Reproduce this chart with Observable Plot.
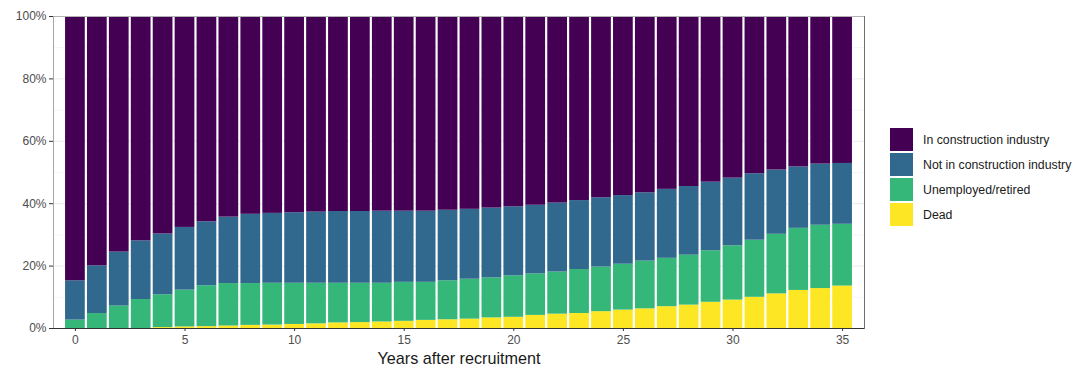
<!DOCTYPE html>
<html>
<head>
<meta charset="utf-8">
<script src="https://cdn.jsdelivr.net/npm/d3@7"></script>
<script src="https://cdn.jsdelivr.net/npm/@observablehq/plot@0.6"></script>
<style>
  html, body { margin: 0; padding: 0; background: #fff; }
  body { font-family: "Liberation Sans", Arial, sans-serif; }
  #wrap { position: relative; width: 1077px; height: 369px; }
  #legend { position: absolute; left: 890px; top: 127px; }
  .row { display: flex; align-items: center; height: 25px; }
  .sw { width: 23px; height: 23px; margin-right: 10px; }
  .lb { font-size: 12.3px; color: #1a1a1a; white-space: nowrap; }
</style>
</head>
<body>
<div id="wrap"><div id="chart"></div><div id="legend"></div></div>
<script>
// Years after recruitment
const years = d3.range(0, 36);

// Status categories, stacked from the bottom up, and their viridis fills
const statuses = ["Dead", "Unemployed/retired", "Not in construction industry", "In construction industry"];
const colors = ["#FDE725", "#35B779", "#31688E", "#440154"];

// Share of the cohort (%) in each status, per year
const dead = [0, 0, 0, 0, 0.3, 0.5, 0.6, 0.8, 1.0, 1.1, 1.3, 1.5, 1.8, 1.9, 2.1, 2.3, 2.6, 2.8,
  3.0, 3.4, 3.6, 4.2, 4.6, 4.8, 5.4, 5.9, 6.3, 7.0, 7.5, 8.4, 9.1, 10.0, 11.1, 12.2, 12.8, 13.6];
const unemployed = [2.7, 4.8, 7.2, 9.3, 10.5, 11.8, 13.1, 13.6, 13.4, 13.4, 13.2, 13.0, 12.7, 12.6,
  12.4, 12.5, 12.2, 12.5, 12.8, 12.8, 13.3, 13.3, 13.5, 14.1, 14.3, 14.7, 15.3, 15.5, 16.0, 16.5,
  17.4, 18.3, 19.1, 19.9, 20.3, 19.8];
const notInConstruction = [12.6, 15.3, 17.3, 18.8, 19.5, 20.1, 20.5, 21.3, 22.2, 22.4, 22.6, 22.8,
  23.0, 23.0, 23.1, 22.8, 22.8, 22.6, 22.4, 22.4, 22.1, 22.0, 22.1, 22.1, 22.2, 22.0, 21.9, 22.1,
  22.0, 22.0, 21.7, 21.3, 20.6, 19.7, 19.6, 19.5];
const inConstruction = [84.7, 79.9, 75.5, 71.9, 69.7, 67.6, 65.8, 64.3, 63.4, 63.1, 62.9, 62.7,
  62.5, 62.5, 62.4, 62.4, 62.4, 62.1, 61.8, 61.4, 61.0, 60.5, 59.8, 59.0, 58.1, 57.4, 56.5, 55.4,
  54.5, 53.1, 51.8, 50.4, 49.2, 48.2, 47.3, 47.1];

// Axis ticks
const xTicks = [0, 5, 10, 15, 20, 25, 30, 35];
const yMajor = [0, 20, 40, 60, 80, 100];
const yMinor = [10, 30, 50, 70, 90];
const xTitle = "Years after recruitment";

const series = [dead, unemployed, notInConstruction, inConstruction];
const data = [];
years.forEach((year, i) => {
  statuses.forEach((status, k) => data.push({year, status, value: series[k][i]}));
});

const chart = Plot.plot({
  width: 870,
  height: 369,
  marginLeft: 53,
  marginRight: 6,
  marginTop: 16,
  marginBottom: 41,
  style: {fontFamily: "'Liberation Sans', Arial, sans-serif", fontSize: "12px", color: "#4d4d4d", background: "#fff"},
  x: {type: "band", domain: years, paddingInner: 0.1, paddingOuter: 0.55, align: 0.5, axis: null},
  y: {domain: [0, 100], axis: null},
  color: {domain: statuses, range: colors},
  marks: [
    Plot.ruleY(yMinor, {stroke: "#f3f3f3", strokeWidth: 0.8}),
    Plot.ruleY(yMajor, {stroke: "#ebebeb", strokeWidth: 1}),
    Plot.barY(data, {x: "year", y: "value", fill: "status"}),
    Plot.frame({stroke: "#b3b3b3"}),
    Plot.frame({anchor: "right", stroke: "#6e6e6e"}),
    Plot.frame({anchor: "left", stroke: "#a6a6a6"}),
    Plot.ruleY([0], {stroke: "#333333", strokeWidth: 1.1}),
    Plot.axisX({ticks: xTicks, tickSize: 3, tickPadding: 4, stroke: "#333333", fill: "#4d4d4d", label: null}),
    Plot.axisY({ticks: yMajor, tickSize: 4, tickPadding: 3, stroke: "#333333", fill: "#4d4d4d",
      tickFormat: d => d + "%", label: null}),
    Plot.text([xTitle], {frameAnchor: "bottom", dy: 35, fontSize: 16.2, fill: "#1a1a1a", text: d => d})
  ]
});
document.getElementById("chart").appendChild(chart);

// Legend, top entry first
const legend = d3.select("#legend");
statuses.slice().reverse().forEach(status => {
  const row = legend.append("div").attr("class", "row");
  row.append("div").attr("class", "sw").style("background", colors[statuses.indexOf(status)]);
  row.append("div").attr("class", "lb").text(status);
});
</script>
</body>
</html>
